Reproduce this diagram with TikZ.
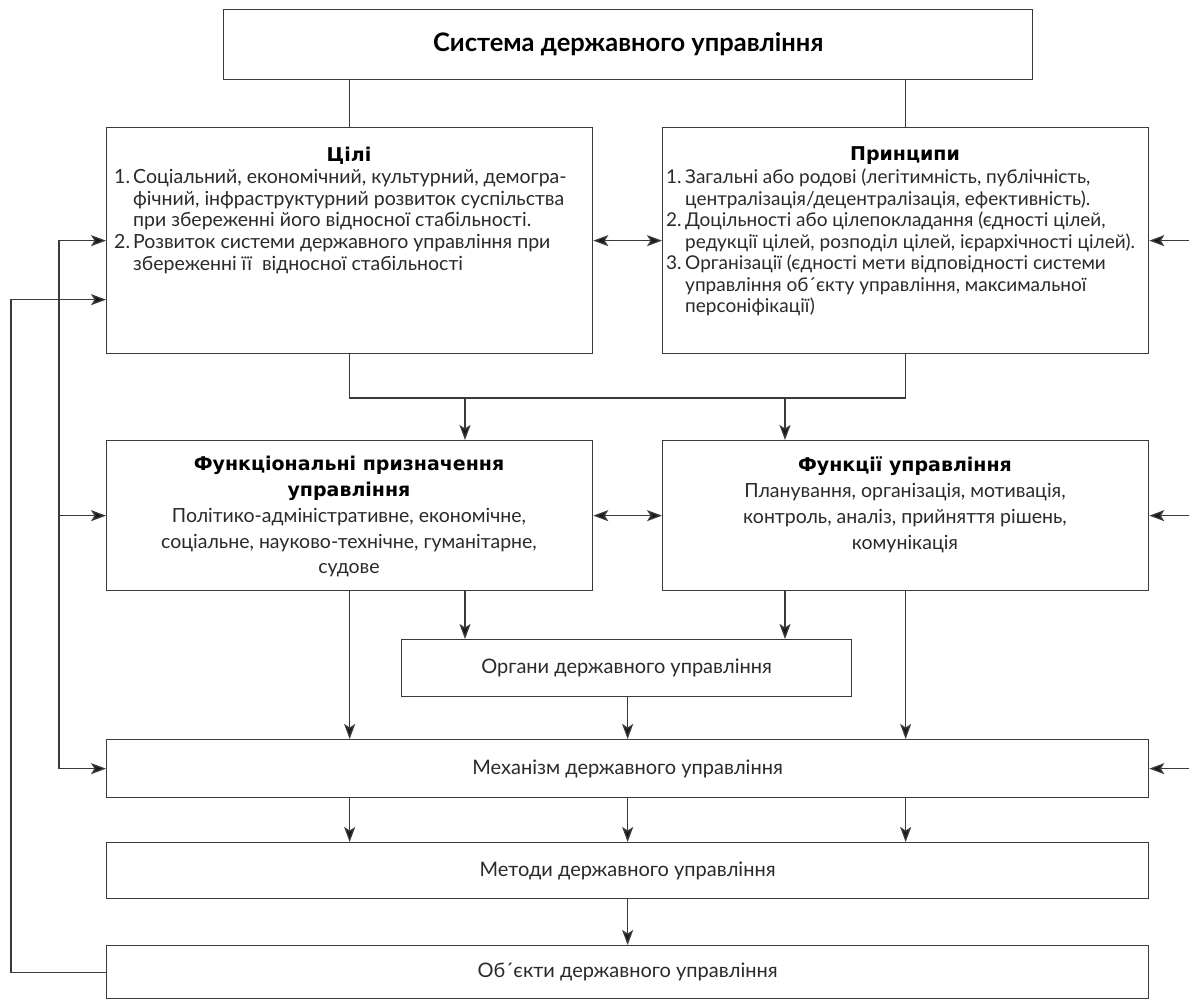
\documentclass[tikz,border=0pt]{standalone}
\usepackage{fontspec}
\setmainfont{Lato}
\newfontfamily\hdfont{DejaVu Sans}
\usetikzlibrary{arrows.meta,calc}
\definecolor{ln}{HTML}{3A3A3A}
\definecolor{tx}{HTML}{2A2A2A}
\newcommand{\nm}[1]{\makebox[19pt][l]{#1}}
\newcommand{\ind}{\hspace*{19pt}}
\newcommand{\hd}{\hdfont\bfseries\fontsize{19}{25.8}\selectfont\color{black}}
\begin{document}
\begin{tikzpicture}[x=1pt,y=-1pt,
  box/.style={draw=ln,line width=1.3pt,rectangle,inner sep=0pt,anchor=north west,text=tx},
  conn/.style={draw=ln,line width=1.3pt},
  tip/.tip={Stealth[length=15pt,width=11pt,inset=3.5pt,fill=black!90]},
  arr/.style={conn,-tip},
  dbl/.style={conn,tip-tip},
  ttl/.style={font=\hdfont\bfseries\fontsize{19}{22}\selectfont,text=black},
  body/.style={text=tx,align=left,inner sep=0pt,anchor=north west},
  cbody/.style={font=\fontsize{19.5}{25.8}\selectfont,text=tx,align=center,inner sep=0pt,anchor=north},
  lbl/.style={font=\fontsize{20}{22}\selectfont}
]
\useasboundingbox (0,0) rectangle (1189,1000);
\fill[white] (0,0) rectangle (1189,1000);

% boxes
\node[box,minimum width=809pt,minimum height=70pt,font=\bfseries\fontsize{25.5}{28}\selectfont,text=black] (sys) at (223,9) {Система державного управління};
\node[box,minimum width=486pt,minimum height=226pt] (goals) at (106,127) {};
\node[box,minimum width=486pt,minimum height=226pt] (princ) at (662,127) {};
\node[box,minimum width=486pt,minimum height=150pt] (funcp) at (106,440) {};
\node[box,minimum width=486pt,minimum height=150pt] (funcs) at (662,440) {};
\node[box,minimum width=450pt,minimum height=57pt,lbl] (organs) at (401,639) {Органи державного управління};
\node[box,minimum width=1042pt,minimum height=58pt,lbl] (mech) at (106,739) {Механізм державного управління};
\node[box,minimum width=1042pt,minimum height=56pt,lbl] (meth) at (106,842) {Методи державного управління};
\node[box,minimum width=1042pt,minimum height=53pt,lbl] (obj) at (106,945) {Об´єкти державного управління};

% texts
\node[ttl] (goalsT) at (349,156) {Цілі};
\node[body,font=\fontsize{19.5}{21.7}\selectfont] (goalsB) at (114,169) {\nm{1.}Соціальний, економічний, культурний, демогра-\\
\ind фічний, інфраструктурний розвиток суспільства\\
\ind при збереженні його відносної стабільності.\\
\nm{2.}Розвиток системи державного управління при\\
\ind збереженні її\ \ відносної стабільності};
\node[ttl] (princT) at (905,156) {Принципи};
\node[body,font=\fontsize{19}{21.5}\selectfont] (princB) at (666,169) {\nm{1.}Загальні або родові (легітимність, публічність,\\
\ind централізація/децентралізація, ефективність).\\
\nm{2.}Доцільності або цілепокладання (єдності цілей,\\
\ind редукції цілей, розподіл цілей, ієрархічності цілей).\\
\nm{3.}Організації (єдності мети відповідності системи\\
\ind управління об´єкту управління, максимальної\\
\ind персоніфікації)};
\node[cbody] (funcpB) at (349,456) {{\hd Функціональні призначення}\\
{\hd управління}\\
Політико-адміністративне, економічне,\\
соціальне, науково-технічне, гуманітарне,\\
судове};
\node[cbody] (funcsB) at (905,457) {{\hd Функції управління}\\
Планування, організація, мотивація,\\
контроль, аналіз, прийняття рішень,\\
комунікація};

% helper coordinates
\coordinate (busy) at (0,398);
\coordinate (xa) at (465,0);
\coordinate (xb) at (785,0);
\coordinate (redge) at (1189,0);
\coordinate (lbus) at (59,0);
\coordinate (fb) at (11,0);
\coordinate (gin) at ([yshift=-59pt]goals.west);

% connectors
\draw[conn] (sys.south -| goals.north) -- (goals.north);
\draw[conn] (sys.south -| princ.north) -- (princ.north);
\draw[conn] (goals.south) |- (princ.south |- busy) -- (princ.south);
\draw[arr] (xa |- busy) -- (xa |- funcp.north);
\draw[arr] (xb |- busy) -- (xb |- funcs.north);
\draw[dbl] (goals.east) -- (princ.west);
\draw[dbl] (funcp.east) -- (funcs.west);
\draw[arr] (funcp.south) -- (funcp.south |- mech.north);
\draw[arr] (xa |- funcp.south) -- (xa |- organs.north);
\draw[arr] (xb |- funcs.south) -- (xb |- organs.north);
\draw[arr] (funcs.south) -- (funcs.south |- mech.north);
\draw[arr] (organs.south -| mech.north) -- (mech.north);
\draw[arr] (mech.south -| funcp.south) -- (meth.north -| funcp.south);
\draw[arr] (mech.south) -- (meth.north);
\draw[arr] (mech.south -| funcs.south) -- (meth.north -| funcs.south);
\draw[arr] (meth.south) -- (obj.north);
% right inputs
\draw[arr] (redge |- princ.east) -- (princ.east);
\draw[arr] (redge |- funcs.east) -- (funcs.east);
\draw[arr] (redge |- mech.east) -- (mech.east);
% left bus
\draw[arr] (lbus |- mech.west) |- (goals.west);
\draw[arr] (lbus |- goals.west) |- (mech.west);
\draw[arr] (lbus |- funcp.west) -- (funcp.west);
% feedback
\draw[arr] (obj.west) -| (fb |- gin) -- (gin);
\end{tikzpicture}
\end{document}
